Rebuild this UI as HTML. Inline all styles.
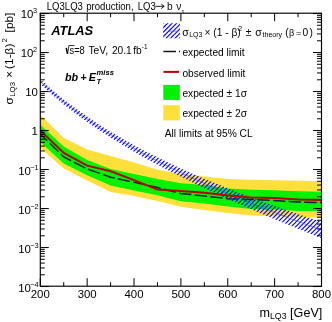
<!DOCTYPE html>
<html><head><meta charset="utf-8"><style>
html,body{margin:0;padding:0;background:#fff;}
body{width:332px;height:322px;overflow:hidden;}
svg{display:block;will-change:transform;font-family:"Liberation Sans",sans-serif;}
</style></head><body>
<svg width="332" height="322" viewBox="0 0 332 322" xmlns="http://www.w3.org/2000/svg">
<defs>
<pattern id="hatch" patternUnits="userSpaceOnUse" width="4.48" height="4.48" patternTransform="translate(2.74,0)">
<path d="M-1,1 l2,-2 M0,4.48 l4.48,-4.48 M3.48,5.48 l2,-2" stroke="#0000ff" stroke-width="1.0"/>
</pattern>
<clipPath id="frame"><rect x="40.3" y="13.2" width="281.2" height="273.0"/></clipPath>
</defs>
<rect width="332" height="322" fill="#fff"/>
<g clip-path="url(#frame)">
<polygon points="40.30,114.70 63.73,138.00 87.17,149.40 110.60,155.90 134.03,162.60 157.47,169.80 180.90,173.90 204.33,176.60 227.77,178.90 251.20,179.80 274.63,180.20 298.07,180.80 321.50,181.30 321.50,217.80 298.07,216.90 274.63,216.20 251.20,215.60 227.77,212.90 204.33,210.00 180.90,206.80 157.47,200.90 134.03,196.10 110.60,192.00 87.17,180.50 63.73,168.60 40.30,147.70" fill="#ffdf3a"/>
<polygon points="40.30,124.80 63.73,146.50 87.17,159.90 110.60,168.90 134.03,174.10 157.47,179.00 180.90,183.30 204.33,185.10 227.77,188.60 251.20,189.80 274.63,190.30 298.07,191.30 321.50,191.80 321.50,211.10 298.07,210.90 274.63,209.50 251.20,208.90 227.77,206.50 204.33,203.60 180.90,201.30 157.47,195.20 134.03,190.50 110.60,185.60 87.17,175.30 63.73,163.40 40.30,142.00" fill="#00f200"/>
<polyline points="40.30,134.00 63.73,157.00 87.17,169.00 110.60,177.20 134.03,182.30 157.47,187.60 180.90,193.50 204.33,196.00 227.77,198.70 251.20,199.60 274.63,200.50 298.07,202.00 321.50,202.50" fill="none" stroke="#1a1e40" stroke-width="1.5" stroke-dasharray="12.5,3.2" stroke-dashoffset="2.79"/>
<clipPath id="thc"><polygon points="40.30,79.16 52.02,89.74 63.73,99.41 75.45,108.36 87.17,116.62 98.88,124.42 110.60,131.68 122.32,138.61 134.03,145.16 145.75,151.47 157.47,157.34 169.18,162.97 180.90,168.45 192.62,173.73 204.33,178.73 216.05,183.57 227.77,188.30 239.48,192.95 251.20,197.40 262.92,201.71 274.63,205.89 286.35,210.02 298.07,214.01 309.78,217.95 321.50,221.79 321.50,238.19 309.78,233.54 298.07,228.81 286.35,224.06 274.63,219.19 262.92,214.31 251.20,209.31 239.48,204.21 227.77,198.93 216.05,193.58 204.33,188.17 192.62,182.62 180.90,176.82 169.18,170.85 157.47,164.75 145.75,158.46 134.03,151.76 122.32,144.84 110.60,137.57 98.88,130.02 87.17,121.97 75.45,113.50 63.73,104.38 52.02,94.60 40.30,83.96"/></clipPath><path d="M-164.18,261.00L37.82,59.00M-159.70,261.00L42.30,59.00M-155.22,261.00L46.78,59.00M-150.74,261.00L51.26,59.00M-146.26,261.00L55.74,59.00M-141.78,261.00L60.22,59.00M-137.30,261.00L64.70,59.00M-132.82,261.00L69.18,59.00M-128.34,261.00L73.66,59.00M-123.86,261.00L78.14,59.00M-119.38,261.00L82.62,59.00M-114.90,261.00L87.10,59.00M-110.42,261.00L91.58,59.00M-105.94,261.00L96.06,59.00M-101.46,261.00L100.54,59.00M-96.98,261.00L105.02,59.00M-92.50,261.00L109.50,59.00M-88.02,261.00L113.98,59.00M-83.54,261.00L118.46,59.00M-79.06,261.00L122.94,59.00M-74.58,261.00L127.42,59.00M-70.10,261.00L131.90,59.00M-65.62,261.00L136.38,59.00M-61.14,261.00L140.86,59.00M-56.66,261.00L145.34,59.00M-52.18,261.00L149.82,59.00M-47.70,261.00L154.30,59.00M-43.22,261.00L158.78,59.00M-38.74,261.00L163.26,59.00M-34.26,261.00L167.74,59.00M-29.78,261.00L172.22,59.00M-25.30,261.00L176.70,59.00M-20.82,261.00L181.18,59.00M-16.34,261.00L185.66,59.00M-11.86,261.00L190.14,59.00M-7.38,261.00L194.62,59.00M-2.90,261.00L199.10,59.00M1.58,261.00L203.58,59.00M6.06,261.00L208.06,59.00M10.54,261.00L212.54,59.00M15.02,261.00L217.02,59.00M19.50,261.00L221.50,59.00M23.98,261.00L225.98,59.00M28.46,261.00L230.46,59.00M32.94,261.00L234.94,59.00M37.42,261.00L239.42,59.00M41.90,261.00L243.90,59.00M46.38,261.00L248.38,59.00M50.86,261.00L252.86,59.00M55.34,261.00L257.34,59.00M59.82,261.00L261.82,59.00M64.30,261.00L266.30,59.00M68.78,261.00L270.78,59.00M73.26,261.00L275.26,59.00M77.74,261.00L279.74,59.00M82.22,261.00L284.22,59.00M86.70,261.00L288.70,59.00M91.18,261.00L293.18,59.00M95.66,261.00L297.66,59.00M100.14,261.00L302.14,59.00M104.62,261.00L306.62,59.00M109.10,261.00L311.10,59.00M113.58,261.00L315.58,59.00M118.06,261.00L320.06,59.00M122.54,261.00L324.54,59.00M127.02,261.00L329.02,59.00M131.50,261.00L333.50,59.00M135.98,261.00L337.98,59.00M140.46,261.00L342.46,59.00M144.94,261.00L346.94,59.00M149.42,261.00L351.42,59.00M153.90,261.00L355.90,59.00M158.38,261.00L360.38,59.00M162.86,261.00L364.86,59.00M167.34,261.00L369.34,59.00M171.82,261.00L373.82,59.00M176.30,261.00L378.30,59.00M180.78,261.00L382.78,59.00M185.26,261.00L387.26,59.00M189.74,261.00L391.74,59.00M194.22,261.00L396.22,59.00M198.70,261.00L400.70,59.00M203.18,261.00L405.18,59.00M207.66,261.00L409.66,59.00M212.14,261.00L414.14,59.00M216.62,261.00L418.62,59.00M221.10,261.00L423.10,59.00M225.58,261.00L427.58,59.00M230.06,261.00L432.06,59.00M234.54,261.00L436.54,59.00M239.02,261.00L441.02,59.00M243.50,261.00L445.50,59.00M247.98,261.00L449.98,59.00M252.46,261.00L454.46,59.00M256.94,261.00L458.94,59.00M261.42,261.00L463.42,59.00M265.90,261.00L467.90,59.00M270.38,261.00L472.38,59.00M274.86,261.00L476.86,59.00M279.34,261.00L481.34,59.00M283.82,261.00L485.82,59.00M288.30,261.00L490.30,59.00M292.78,261.00L494.78,59.00M297.26,261.00L499.26,59.00M301.74,261.00L503.74,59.00M306.22,261.00L508.22,59.00M310.70,261.00L512.70,59.00M315.18,261.00L517.18,59.00M319.66,261.00L521.66,59.00M324.14,261.00L526.14,59.00" clip-path="url(#thc)" stroke="#0000ff" stroke-width="1.1" fill="none"/>
<polyline points="40.30,81.56 52.02,92.17 63.73,101.89 75.45,110.93 87.17,119.29 98.88,127.22 110.60,134.63 122.32,141.72 134.03,148.46 145.75,154.96 157.47,161.05 169.18,166.91 180.90,172.64 192.62,178.18 204.33,183.45 216.05,188.57 227.77,193.62 239.48,198.58 251.20,203.35 262.92,208.01 274.63,212.54 286.35,217.04 298.07,221.41 309.78,225.75 321.50,229.99" fill="none" stroke="#3a3aff" stroke-width="0.55"/>
<polyline points="40.30,130.50 63.73,153.00 87.17,165.60 110.60,171.20 134.03,180.10 157.47,189.50 180.90,190.90 204.33,192.80 227.77,195.60 251.20,197.40 274.63,198.10 298.07,199.60 321.50,199.90" fill="none" stroke="#bb0000" stroke-width="2.0"/>
</g>
<path d="M40.3,286.55h8.5M321.5,286.55h-8.5M40.3,274.81h4.5M321.5,274.81h-4.5M40.3,267.94h4.5M321.5,267.94h-4.5M40.3,263.07h4.5M321.5,263.07h-4.5M40.3,259.29h4.5M321.5,259.29h-4.5M40.3,256.20h4.5M321.5,256.20h-4.5M40.3,253.59h4.5M321.5,253.59h-4.5M40.3,251.33h4.5M321.5,251.33h-4.5M40.3,249.33h4.5M321.5,249.33h-4.5M40.3,247.55h8.5M321.5,247.55h-8.5M40.3,235.81h4.5M321.5,235.81h-4.5M40.3,228.94h4.5M321.5,228.94h-4.5M40.3,224.07h4.5M321.5,224.07h-4.5M40.3,220.29h4.5M321.5,220.29h-4.5M40.3,217.20h4.5M321.5,217.20h-4.5M40.3,214.59h4.5M321.5,214.59h-4.5M40.3,212.33h4.5M321.5,212.33h-4.5M40.3,210.33h4.5M321.5,210.33h-4.5M40.3,208.55h8.5M321.5,208.55h-8.5M40.3,196.81h4.5M321.5,196.81h-4.5M40.3,189.94h4.5M321.5,189.94h-4.5M40.3,185.07h4.5M321.5,185.07h-4.5M40.3,181.29h4.5M321.5,181.29h-4.5M40.3,178.20h4.5M321.5,178.20h-4.5M40.3,175.59h4.5M321.5,175.59h-4.5M40.3,173.33h4.5M321.5,173.33h-4.5M40.3,171.33h4.5M321.5,171.33h-4.5M40.3,169.55h8.5M321.5,169.55h-8.5M40.3,157.81h4.5M321.5,157.81h-4.5M40.3,150.94h4.5M321.5,150.94h-4.5M40.3,146.07h4.5M321.5,146.07h-4.5M40.3,142.29h4.5M321.5,142.29h-4.5M40.3,139.20h4.5M321.5,139.20h-4.5M40.3,136.59h4.5M321.5,136.59h-4.5M40.3,134.33h4.5M321.5,134.33h-4.5M40.3,132.33h4.5M321.5,132.33h-4.5M40.3,130.55h8.5M321.5,130.55h-8.5M40.3,118.81h4.5M321.5,118.81h-4.5M40.3,111.94h4.5M321.5,111.94h-4.5M40.3,107.07h4.5M321.5,107.07h-4.5M40.3,103.29h4.5M321.5,103.29h-4.5M40.3,100.20h4.5M321.5,100.20h-4.5M40.3,97.59h4.5M321.5,97.59h-4.5M40.3,95.33h4.5M321.5,95.33h-4.5M40.3,93.33h4.5M321.5,93.33h-4.5M40.3,91.55h8.5M321.5,91.55h-8.5M40.3,79.81h4.5M321.5,79.81h-4.5M40.3,72.94h4.5M321.5,72.94h-4.5M40.3,68.07h4.5M321.5,68.07h-4.5M40.3,64.29h4.5M321.5,64.29h-4.5M40.3,61.20h4.5M321.5,61.20h-4.5M40.3,58.59h4.5M321.5,58.59h-4.5M40.3,56.33h4.5M321.5,56.33h-4.5M40.3,54.33h4.5M321.5,54.33h-4.5M40.3,52.55h8.5M321.5,52.55h-8.5M40.3,40.81h4.5M321.5,40.81h-4.5M40.3,33.94h4.5M321.5,33.94h-4.5M40.3,29.07h4.5M321.5,29.07h-4.5M40.3,25.29h4.5M321.5,25.29h-4.5M40.3,22.20h4.5M321.5,22.20h-4.5M40.3,19.59h4.5M321.5,19.59h-4.5M40.3,17.33h4.5M321.5,17.33h-4.5M40.3,15.33h4.5M321.5,15.33h-4.5M40.3,13.55h8.5M321.5,13.55h-8.5M40.30,286.2v-8M40.30,13.2v8M63.73,286.2v-4M63.73,13.2v4M87.17,286.2v-8M87.17,13.2v8M110.60,286.2v-4M110.60,13.2v4M134.03,286.2v-8M134.03,13.2v8M157.47,286.2v-4M157.47,13.2v4M180.90,286.2v-8M180.90,13.2v8M204.33,286.2v-4M204.33,13.2v4M227.77,286.2v-8M227.77,13.2v8M251.20,286.2v-4M251.20,13.2v4M274.63,286.2v-8M274.63,13.2v8M298.07,286.2v-4M298.07,13.2v4M321.50,286.2v-8M321.50,13.2v8" stroke="#000" stroke-width="1" fill="none"/>
<rect x="40.3" y="13.2" width="281.20" height="273.00" fill="none" stroke="#000" stroke-width="1.15"/>
<g font-size="11.4" fill="#000"><text x="40.30" y="297.7" text-anchor="middle">200</text><text x="87.17" y="297.7" text-anchor="middle">300</text><text x="134.03" y="297.7" text-anchor="middle">400</text><text x="180.90" y="297.7" text-anchor="middle">500</text><text x="227.77" y="297.7" text-anchor="middle">600</text><text x="274.63" y="297.7" text-anchor="middle">700</text><text x="321.50" y="297.7" text-anchor="middle">800</text><text x="30.9" y="292.15" text-anchor="end">10</text><text x="38.7" y="286.75" font-size="7.4" text-anchor="end">&#8722;4</text><text x="30.9" y="253.15" text-anchor="end">10</text><text x="38.7" y="247.75" font-size="7.4" text-anchor="end">&#8722;3</text><text x="30.9" y="214.15" text-anchor="end">10</text><text x="38.7" y="208.75" font-size="7.4" text-anchor="end">&#8722;2</text><text x="30.9" y="175.15" text-anchor="end">10</text><text x="38.7" y="169.75" font-size="7.4" text-anchor="end">&#8722;1</text><text x="37.9" y="135.25" text-anchor="end">1</text><text x="37.9" y="96.25" text-anchor="end">10</text><text x="33.4" y="57.15" text-anchor="end">10</text><text x="33.0" y="51.75" font-size="7.4">2</text><text x="33.4" y="18.15" text-anchor="end">10</text><text x="33.0" y="12.75" font-size="7.4">3</text></g>
<g fill="#000" font-size="10.1">
<text x="46.8" y="10.1" textLength="36.1" lengthAdjust="spacingAndGlyphs">LQ3LQ3</text>
<text x="86.3" y="10.1" textLength="47.3" lengthAdjust="spacingAndGlyphs">production,</text>
<text x="137.7" y="10.1" textLength="18" lengthAdjust="spacingAndGlyphs">LQ3</text>
<path d="M155.4,6.3 H164 M161.2,4 L164.2,6.3 L161.2,8.6" stroke="#000" stroke-width="0.9" fill="none"/>
<text x="167" y="10.1">b</text>
<text x="176.3" y="10.1">&#957;<tspan x="181.7" font-size="6.2" dy="2.5">&#964;</tspan></text>
</g>
<text transform="translate(12.6,104.5) rotate(-90) scale(1.12,1)" font-size="10.6" fill="#000"><tspan x="0">&#963;</tspan><tspan x="6.9" dy="2.6" font-size="7">LQ3</tspan><tspan x="24" dy="-2.6">&#215;</tspan><tspan x="31.8">(1-&#946;)</tspan><tspan x="55.3" dy="-5.6" font-size="7">2</tspan><tspan x="64.4" dy="5.6">[pb]</tspan></text>
<text x="322.3" y="316.6" font-size="12.6" text-anchor="end" fill="#000">m<tspan font-size="8.8" dy="2.8">LQ3</tspan><tspan dy="-2.8"> [GeV]</tspan></text>
<text x="51.2" y="35.4" font-size="12.9" font-weight="bold" font-style="italic" fill="#000">ATLAS</text>
<g fill="#000" font-size="10.2">
<path d="M66.2,47.9 L67.5,53.8" stroke="#000" stroke-width="1.5" fill="none"/><path d="M67.6,54 L68.9,45.5 H74.4" stroke="#000" stroke-width="0.8" fill="none"/>
<text x="69.5" y="54.3" textLength="15.3" lengthAdjust="spacingAndGlyphs">s=8</text>
<text x="88.4" y="54.4" textLength="19.8" lengthAdjust="spacingAndGlyphs">TeV,</text>
<text x="111.9" y="54.4">20.1</text><text x="133.2" y="54.4">fb</text><text x="141.7" y="48.6" font-size="6.4">-</text><text x="144.1" y="48.6" font-size="6.4">1</text>
</g>
<text x="65.0" y="80.9" font-size="10.8" font-weight="bold" font-style="italic" fill="#000" word-spacing="-0.9">bb + E<tspan x="96.6" y="75.3" font-size="7.6">miss</tspan><tspan x="96.4" y="83.6" font-size="7.6">T</tspan></text>
<!-- legend -->
<clipPath id="lgc"><rect x="163.2" y="23.2" width="16.8" height="15"/></clipPath><path d="M141.94,40.00L159.94,22.00M146.42,40.00L164.42,22.00M150.90,40.00L168.90,22.00M155.38,40.00L173.38,22.00M159.86,40.00L177.86,22.00M164.34,40.00L182.34,22.00M168.82,40.00L186.82,22.00M173.30,40.00L191.30,22.00M177.78,40.00L195.78,22.00M182.26,40.00L200.26,22.00" clip-path="url(#lgc)" stroke="#0000ff" stroke-width="1.1" fill="none"/>
<line x1="168.2" y1="31.2" x2="178.4" y2="31.2" stroke="#5050ff" stroke-width="0.6"/>
<g fill="#000" font-size="10.2">
<text y="35.7"><tspan x="182.2" font-size="10.6">&#963;</tspan><tspan x="189.2" dy="1.6" font-size="7">LQ3</tspan><tspan x="204.4" dy="-1.6">&#215;</tspan><tspan x="213.3">(1 - &#946;)</tspan><tspan x="238.3" dy="-4.4" font-size="7">2</tspan><tspan x="245.8" dy="4.4">&#177;</tspan><tspan x="255.2" font-size="10.6">&#963;</tspan><tspan x="262.6" dy="1.6" font-size="6.6" textLength="19.4" lengthAdjust="spacingAndGlyphs">theory</tspan><tspan x="285.2" dy="-1.6">(</tspan><tspan x="288.9" font-size="9.2">&#946;</tspan><tspan x="296.0" font-size="9.2">=</tspan><tspan x="302.6">0</tspan><tspan x="309.4">)</tspan></text>
<text x="182.4" y="56.2">expected limit</text>
<text x="182.4" y="76.6">observed limit</text>
<text x="182.4" y="96.7">expected &#177; 1&#963;</text>
<text x="182.4" y="116.7">expected &#177; 2&#963;</text>
<text x="164.8" y="136.9">All limits at 95% CL</text>
</g>
<line x1="163.4" y1="51.5" x2="180" y2="51.5" stroke="#121420" stroke-width="1.6" stroke-dasharray="12.6,2.9"/>
<line x1="163.5" y1="71.9" x2="179" y2="71.9" stroke="#bb0000" stroke-width="2.0"/>
<rect x="163.3" y="84.9" width="16.5" height="15" fill="#00f200"/>
<rect x="163.3" y="105.2" width="16.5" height="15.2" fill="#ffdf3a"/>
</svg>
</body></html>
